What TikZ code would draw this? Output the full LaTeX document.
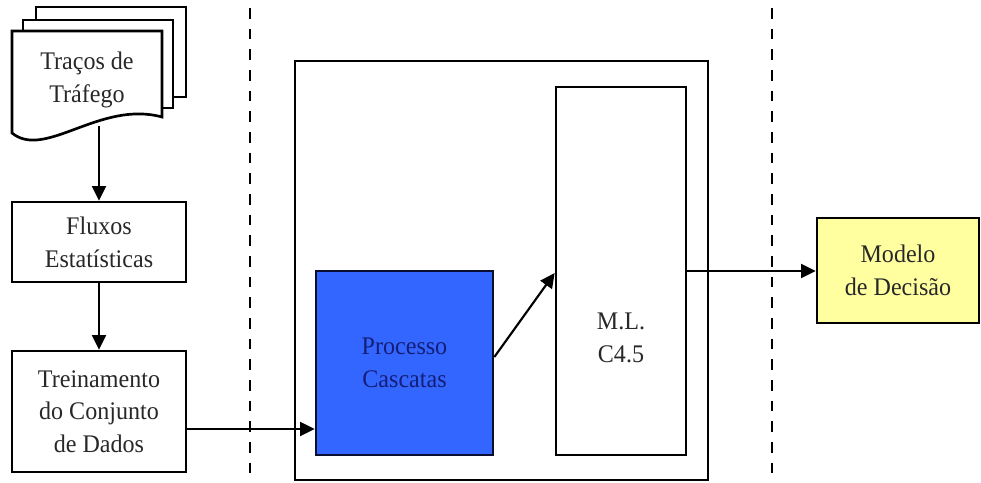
\documentclass[tikz,border=0pt]{standalone}
\usepackage{fontspec}
\setmainfont{Liberation Serif}[FakeStretch=0.95]
\usetikzlibrary{arrows.meta}
\definecolor{textgray}{RGB}{40,40,40}
\definecolor{procblue}{RGB}{51,102,255}
\definecolor{proctext}{RGB}{20,30,120}
\definecolor{procborder}{RGB}{10,15,50}
\definecolor{modelyellow}{RGB}{255,255,160}
\begin{document}
\begin{tikzpicture}[x=0.75pt,y=-0.75pt,
  box/.style={draw=black, line width=2pt, fill=white, inner sep=0pt, rectangle},
  txt/.style={font=\fontsize{19}{24.5}\selectfont, align=center, text=textgray},
  conn/.style={line width=1.6pt, -{Triangle[length=11pt,width=10.5pt]}},
  sepline/.style={line width=1.6pt, dash pattern=on 8pt off 7.5pt, dash phase=9.5pt},
  page/.style={draw=black, line width=2pt, fill=white, line join=miter}]
\useasboundingbox (0,0) rectangle (981,482);
\fill[white] (0,0) rectangle (981,482);

% separators
\coordinate (s1t) at (250,0); \coordinate (s1b) at (250,482);
\coordinate (s2t) at (772,0); \coordinate (s2b) at (772,482);
\draw[sepline] (s1t) -- (s1b);
\draw[sepline] (s2t) -- (s2b);

% document stack
\draw[page] (36,7) rectangle (186,97);
\draw[page] (23,20) rectangle (173,108);
\draw[page] (12,31) -- (162,31) -- (162,117)
  .. controls (100,100) and (45,160) .. (12,133) -- cycle;
\node[txt] (doc) at (87,80) {Traços de\\Tráfego};
\coordinate (docout) at (99,126);

% left column
\node[box, minimum width=130.5pt, minimum height=60pt, txt] (flux) at (99,242) {Fluxos\\Estatísticas};
\node[box, minimum width=130.5pt, minimum height=90.75pt, txt] (trein) at (99,411.5) {Treinamento\\do Conjunto\\de Dados};

% central block
\node[box, minimum width=309.75pt, minimum height=314.25pt] (outer) at (501.5,270.5) {};
\node[box, fill=procblue, draw=procborder, minimum width=132.75pt, minimum height=138pt, txt, text=proctext] (proc) at (404.5,363) {Processo\\Cascatas};
\node[box, minimum width=97.5pt, minimum height=276pt] (ml) at (621,271) {};
\node[txt] (mltext) at (621,338) {M.L.\\C4.5};

% output
\node[box, fill=modelyellow, minimum width=121.5pt, minimum height=78.75pt, txt] (model) at (898,270.5) {Modelo\\de Decisão};

% connectors
\draw[conn] (docout) -- (flux.north);
\draw[conn] (flux.south) -- (trein.north);
\draw[conn] (trein.east |- 0,429) -- (proc.west |- 0,429);
\draw[conn] (proc.east |- 0,357) -- (ml.west |- 0,273);
\draw[conn] (ml.east |- 0,271) -- (model.west |- 0,271);
\end{tikzpicture}
\end{document}
